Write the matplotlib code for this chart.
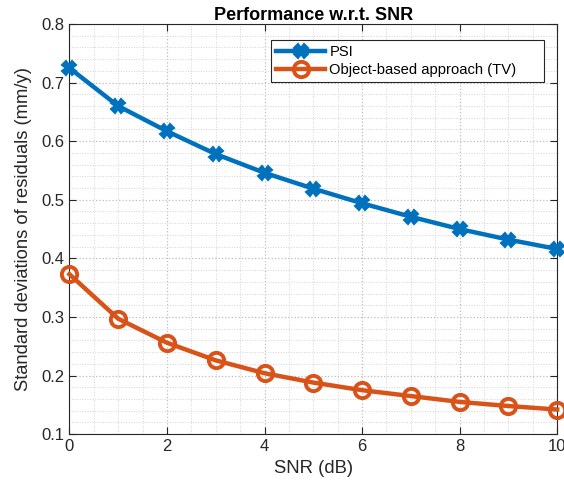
import matplotlib
matplotlib.use("Agg")
import matplotlib.pyplot as plt
from matplotlib.ticker import MultipleLocator

plt.rcParams['font.family'] = ['Liberation Sans', 'DejaVu Sans']

snr = [0, 1, 2, 3, 4, 5, 6, 7, 8, 9, 10]
psi = [0.725, 0.660, 0.617, 0.578, 0.546, 0.519, 0.494, 0.471, 0.450, 0.432, 0.416]
tv = [0.373, 0.297, 0.256, 0.226, 0.204, 0.188, 0.175, 0.165, 0.155, 0.148, 0.142]

fig = plt.figure(figsize=(5.64, 4.9), dpi=100)
ax = fig.add_axes([0.123, 0.114, 0.865, 0.837])

ax.plot(snr, psi, color='#0072BD', lw=3.2, marker='X', ms=10, mew=1.5,
        label='PSI', clip_on=False, zorder=3)
ax.plot(snr, tv, color='#D95319', lw=3.2, marker='o', ms=11, mew=2.8,
        mfc='none', label='Object-based approach (TV)', clip_on=False, zorder=3)

ax.set_xlim(0, 10)
ax.set_ylim(0.1, 0.8)
ax.xaxis.set_major_locator(MultipleLocator(2))
ax.xaxis.set_minor_locator(MultipleLocator(0.5))
ax.yaxis.set_major_locator(MultipleLocator(0.1))
ax.yaxis.set_minor_locator(MultipleLocator(0.02))

ax.grid(which='major', color='#bdbdbd', ls=':', lw=0.9)
ax.grid(which='minor', color='#d4d4d4', ls=':', lw=0.7)
ax.set_axisbelow(True)

ax.tick_params(which='both', direction='in', top=True, right=True,
               colors='#262626', labelsize=12)
ax.tick_params(which='minor', length=0)
ax.tick_params(which='major', length=5)
for s in ax.spines.values():
    s.set_color('#262626')
    s.set_linewidth(0.8)

ax.set_xlabel('SNR (dB)', fontsize=13.3, color='#262626', labelpad=4)
ax.set_ylabel('Standard deviations of residuals (mm/y)', fontsize=13.2,
              color='#262626', labelpad=7)
ax.set_title('Performance w.r.t. SNR', fontsize=13, fontweight='bold', pad=1)

# MATLAB-style legend box with extra room on the right
leg = ax.legend(loc='upper left', bbox_to_anchor=(0.414, 0.962, 0.559, 0.0),
                mode='expand', fontsize=10.6,
                fancybox=False, edgecolor='#262626', framealpha=1,
                handlelength=3.3, borderpad=0.35, labelspacing=0.3,
                handletextpad=0.3, borderaxespad=0)
leg.get_frame().set_linewidth(0.8)

fig.savefig('out.png', dpi=100)
